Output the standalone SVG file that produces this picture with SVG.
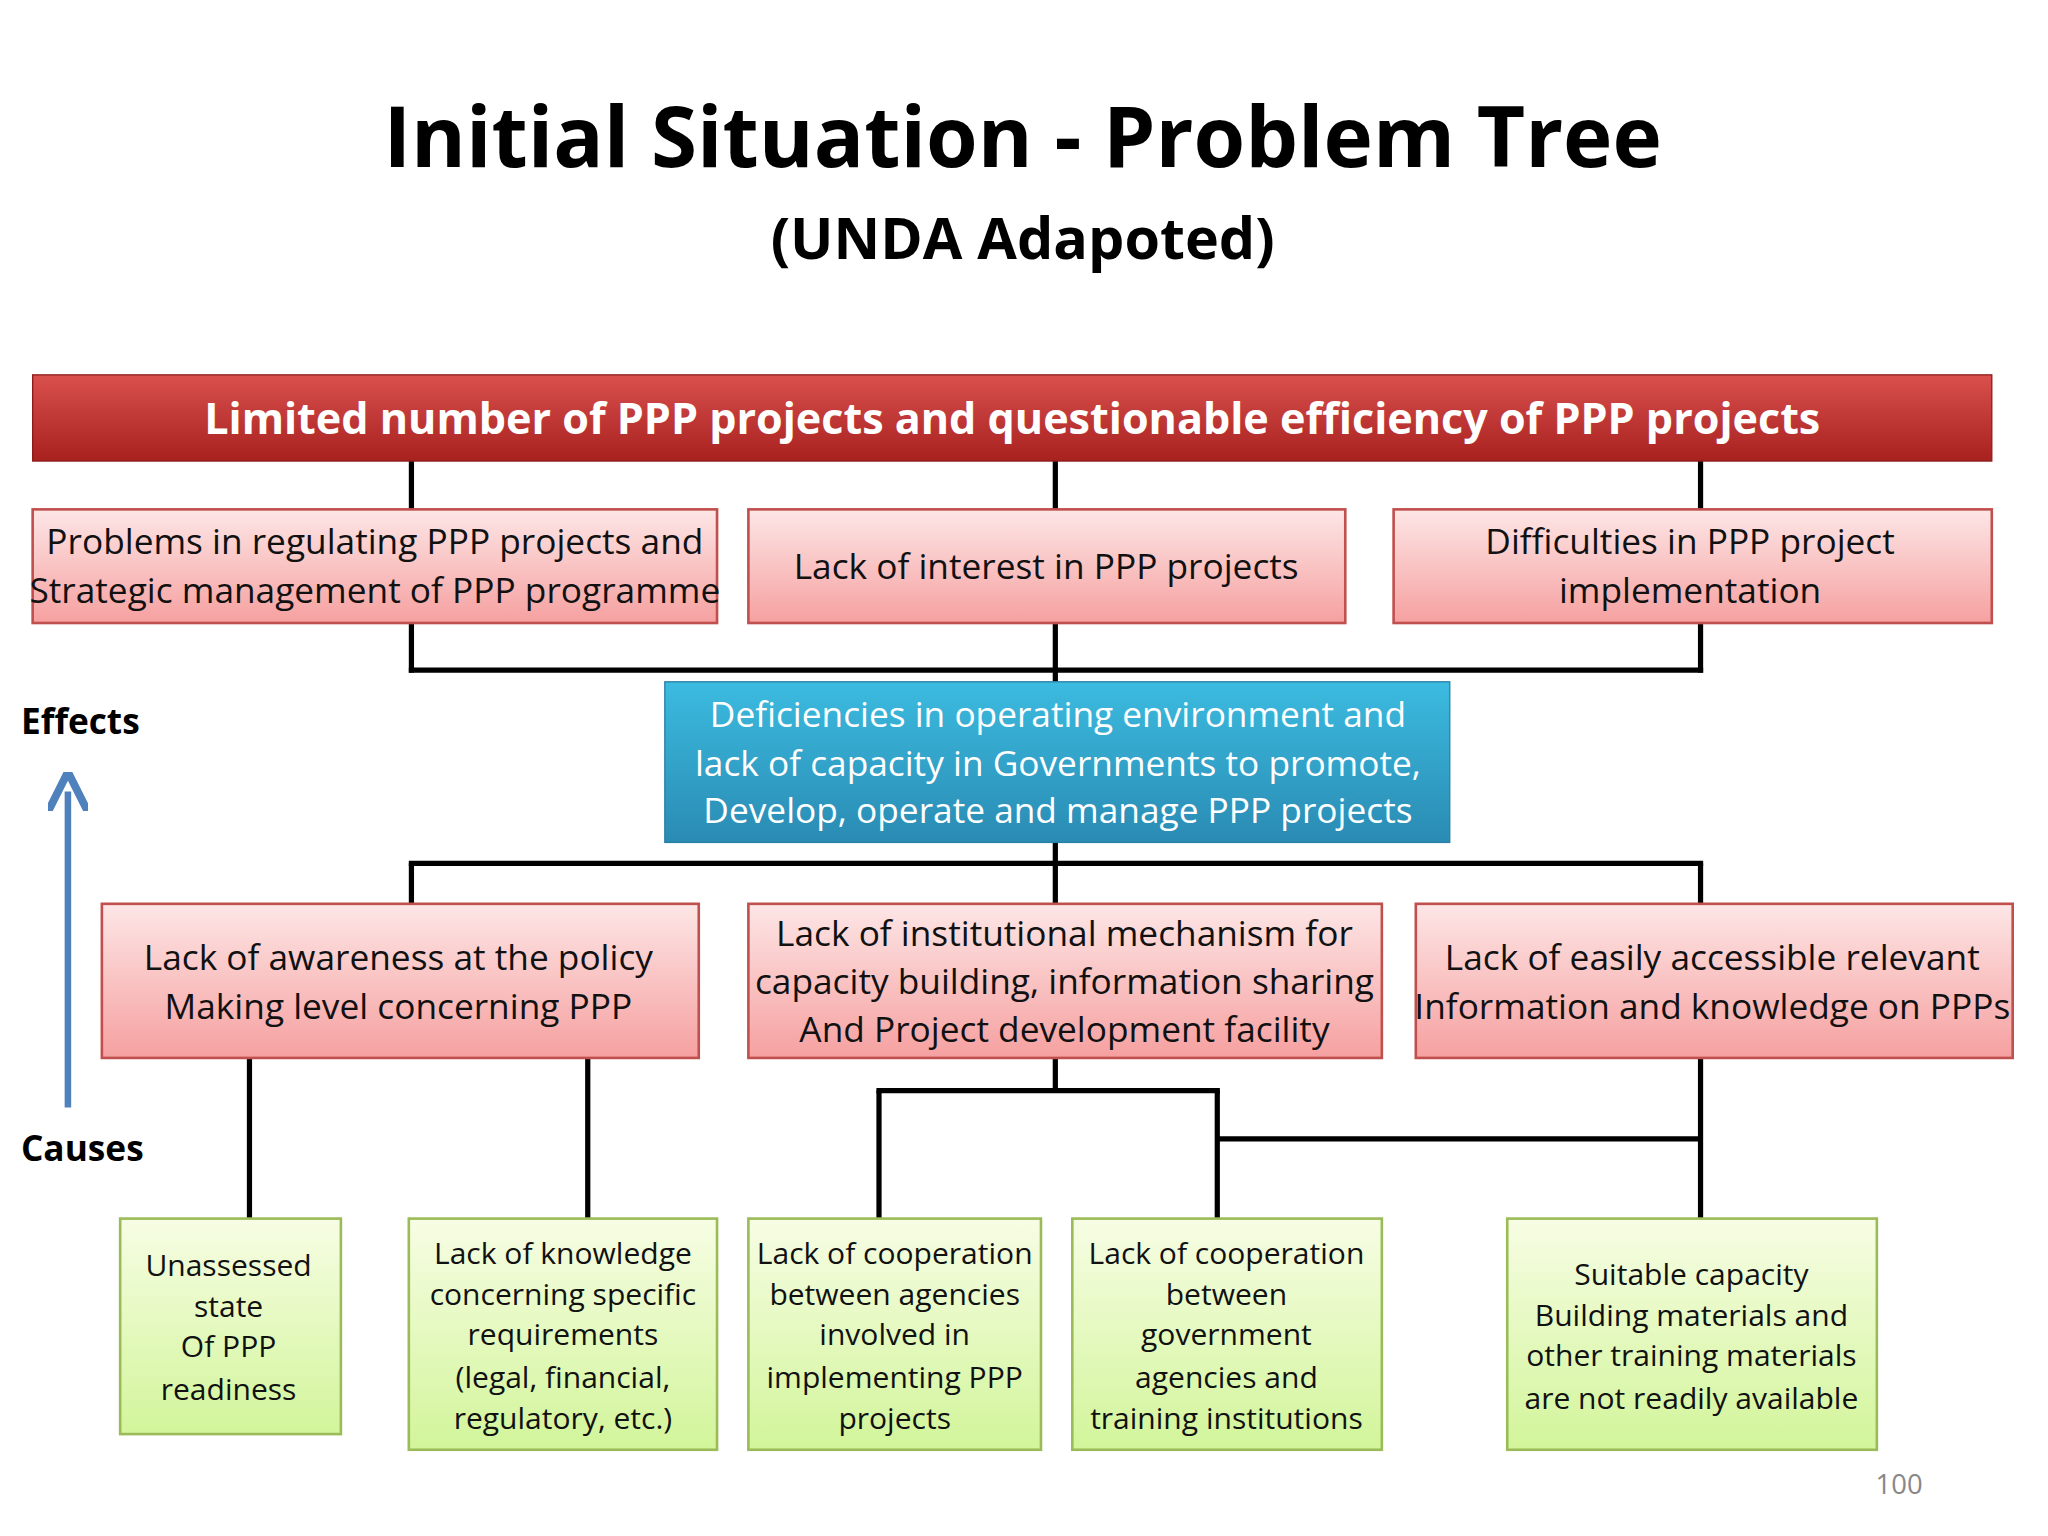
<svg xmlns="http://www.w3.org/2000/svg" width="2048" height="1536" viewBox="0 0 2048 1536">
<defs>
<linearGradient id="red" x1="0" y1="0" x2="0" y2="1"><stop offset="0" stop-color="#d9504d"/><stop offset="1" stop-color="#a8211f"/></linearGradient>
<linearGradient id="pink" x1="0" y1="0" x2="0" y2="1"><stop offset="0" stop-color="#fde6e6"/><stop offset="1" stop-color="#f6a0a0"/></linearGradient>
<linearGradient id="green" x1="0" y1="0" x2="0" y2="1"><stop offset="0" stop-color="#f7fde4"/><stop offset="1" stop-color="#d2f59a"/></linearGradient>
<linearGradient id="blue" x1="0" y1="0" x2="0" y2="1"><stop offset="0" stop-color="#3cbbe0"/><stop offset="1" stop-color="#2a8bb3"/></linearGradient>
<marker id="ah" viewBox="0 0 10 10" refX="5" refY="5" markerWidth="6" markerHeight="6" orient="auto"><path d="M0,0 L10,5 L0,10" fill="none" stroke="#4f81bd" stroke-width="2"/></marker>
</defs>
<style>
text{font-family:"Open Sans","Noto Sans",sans-serif;text-anchor:middle}
.p{fill:url(#pink);stroke:#c0504d;stroke-width:2}
.g{fill:url(#green);stroke:#9bbb59;stroke-width:2}
.t{font-size:27px;fill:#111}
.s{font-size:23px;fill:#111}
.w{fill:#fff}
.c line{stroke:#000;stroke-width:4}
</style>
<rect width="2048" height="1536" fill="#fff"/>
<g transform="scale(1.3061)">
<text x="783" y="128" font-size="64" font-weight="bold">Initial Situation - Problem Tree</text>
<text x="783" y="198" font-size="44" font-weight="bold">(UNDA Adapoted)</text>
<g class="c">
<line x1="315" y1="353" x2="315" y2="390"/><line x1="808" y1="353" x2="808" y2="390"/><line x1="1302" y1="353" x2="1302" y2="390"/>
<line x1="315" y1="477" x2="315" y2="515"/><line x1="808" y1="477" x2="808" y2="522"/><line x1="1302" y1="477" x2="1302" y2="515"/>
<line x1="313" y1="513" x2="1304" y2="513"/>
<line x1="808" y1="645" x2="808" y2="661"/><line x1="313" y1="661" x2="1304" y2="661"/>
<line x1="315" y1="661" x2="315" y2="692"/><line x1="808" y1="661" x2="808" y2="692"/><line x1="1302" y1="661" x2="1302" y2="692"/>
<line x1="191" y1="810" x2="191" y2="933"/><line x1="450" y1="810" x2="450" y2="933"/>
<line x1="808" y1="810" x2="808" y2="835"/><line x1="671" y1="835" x2="934" y2="835"/>
<line x1="673" y1="835" x2="673" y2="933"/><line x1="932" y1="835" x2="932" y2="933"/>
<line x1="1302" y1="810" x2="1302" y2="933"/><line x1="932" y1="872" x2="1302" y2="872"/>
</g>
<g id="top"><rect x="25" y="287" width="1500" height="66" fill="url(#red)" stroke="#8c1c1a"/>
<text x="775" y="332" font-size="33" font-weight="bold" class="w">Limited number of PPP projects and questionable efficiency of PPP projects</text></g>
<g id="e1"><rect class="p" x="25" y="390" width="524" height="87"/><text class="t" x="287" y="424">Problems in regulating PPP projects and</text><text class="t" x="287" y="462">Strategic management of PPP programme</text></g>
<g id="e2"><rect class="p" x="573" y="390" width="457" height="87"/><text class="t" x="801" y="443">Lack of interest in PPP projects</text></g>
<g id="e3"><rect class="p" x="1067" y="390" width="458" height="87"/><text class="t" x="1294" y="424">Difficulties in PPP project</text><text class="t" x="1294" y="462">implementation</text></g>
<g id="core"><rect x="509" y="522" width="601" height="123" fill="url(#blue)" stroke="#2a7fa6"/>
<text class="t w" x="810" y="557">Deficiencies in operating environment and</text><text class="t w" x="810" y="594">lack of capacity in Governments to promote,</text><text class="t w" x="810" y="630">Develop, operate and manage PPP projects</text></g>
<g id="c1"><rect class="p" x="78" y="692" width="457" height="118"/><text class="t" x="305" y="743">Lack of awareness at the policy</text><text class="t" x="305" y="780">Making level concerning PPP</text></g>
<g id="c2"><rect class="p" x="573" y="692" width="485" height="118"/><text class="t" x="815" y="724">Lack of institutional mechanism for</text><text class="t" x="815" y="761">capacity building, information sharing</text><text class="t" x="815" y="798">And Project development facility</text></g>
<g id="c3"><rect class="p" x="1084" y="692" width="457" height="118"/><text class="t" x="1311" y="743">Lack of easily accessible relevant</text><text class="t" x="1311" y="780">Information and knowledge on PPPs</text></g>
<g id="r1"><rect class="g" x="92" y="933" width="169" height="165"/><text class="s" x="175" y="977">Unassessed</text><text class="s" x="175" y="1008">state</text><text class="s" x="175" y="1039">Of PPP</text><text class="s" x="175" y="1072">readiness</text></g>
<g id="r2"><rect class="g" x="313" y="933" width="236" height="177"/><text class="s" x="431" y="968">Lack of knowledge</text><text class="s" x="431" y="999">concerning specific</text><text class="s" x="431" y="1030">requirements</text><text class="s" x="431" y="1063">(legal, financial,</text><text class="s" x="431" y="1094">regulatory, etc.)</text></g>
<g id="r3"><rect class="g" x="573" y="933" width="224" height="177"/><text class="s" x="685" y="968">Lack of cooperation</text><text class="s" x="685" y="999">between agencies</text><text class="s" x="685" y="1030">involved in</text><text class="s" x="685" y="1063">implementing PPP</text><text class="s" x="685" y="1094">projects</text></g>
<g id="r4"><rect class="g" x="821" y="933" width="237" height="177"/><text class="s" x="939" y="968">Lack of cooperation</text><text class="s" x="939" y="999">between</text><text class="s" x="939" y="1030">government</text><text class="s" x="939" y="1063">agencies and</text><text class="s" x="939" y="1094">training institutions</text></g>
<g id="r5"><rect class="g" x="1154" y="933" width="283" height="177"/><text class="s" x="1295" y="984">Suitable capacity</text><text class="s" x="1295" y="1015">Building materials and</text><text class="s" x="1295" y="1046">other training materials</text><text class="s" x="1295" y="1079">are not readily available</text></g>
<g id="axis">
<text x="16" y="562" font-size="27" font-weight="bold" style="text-anchor:start">Effects</text>
<text x="16" y="889" font-size="27" font-weight="bold" style="text-anchor:start">Causes</text>
<line x1="52" y1="848" x2="52" y2="606" stroke="#4f81bd" stroke-width="5" marker-end="url(#ah)"/>
</g>
<text x="1454" y="1144" font-size="21" fill="#888">100</text>
</g>
</svg>
